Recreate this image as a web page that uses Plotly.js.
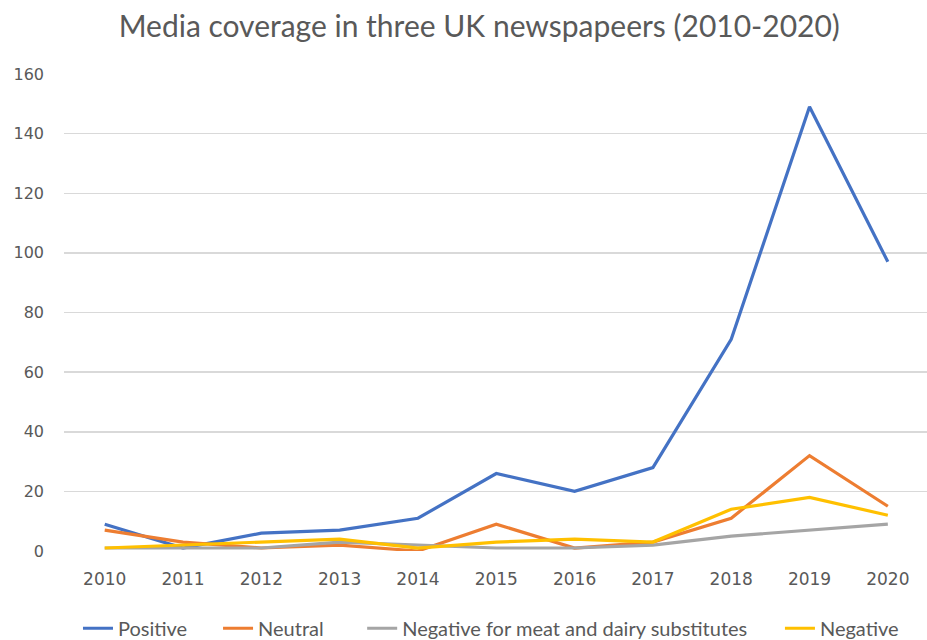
<!DOCTYPE html>
<html>
<head>
<meta charset="utf-8">
<script src="https://cdn.plot.ly/plotly-3.0.1.min.js"></script>
<style>html,body{margin:0;padding:0;background:#fff;}#chart{width:927px;height:640px;}</style>
</head>
<body>
<div id="chart"></div>
<script>
var years = [2010, 2011, 2012, 2013, 2014, 2015, 2016, 2017, 2018, 2019, 2020];
var positive = [9, 1, 6, 7, 11, 26, 20, 28, 71, 149, 97];
var neutral = [7, 3, 1, 2, 0, 9, 1, 3, 11, 32, 15];
var negativeSubstitutes = [1, 1, 1, 3, 2, 1, 1, 2, 5, 7, 9];
var negative = [1, 2, 3, 4, 1, 3, 4, 3, 14, 18, 12];
var seriesNames = ["Positive", "Neutral", "Negative for meat and dairy substitutes", "Negative"];
var seriesColors = ["#4472C4", "#ED7D31", "#A5A5A5", "#FFC000"];
var seriesData = [positive, neutral, negativeSubstitutes, negative];
var legendIds = ["legend", "legend2", "legend3", "legend4"];
var legendX = [0.0162, 0.1785, 0.3455, 0.8296];

var traces = seriesData.map(function (vals, i) {
  return {
    x: years, y: vals, name: seriesNames[i], type: "scatter", mode: "lines",
    line: {color: seriesColors[i], width: 3.2}, legend: legendIds[i]
  };
});

var textFont = "Lato, sans-serif";
var tickFont = "'DejaVu Sans', sans-serif";
var layout = {
  width: 927, height: 640,
  margin: {l: 64, r: 0, t: 74, b: 89, autoexpand: false},
  paper_bgcolor: "#ffffff", plot_bgcolor: "#ffffff",
  title: {text: "Media coverage in three UK newspapeers (2010-2020)", font: {family: textFont, size: 30, color: "#595959"}, x: 0.517, xanchor: "center", y: 0.958, yanchor: "middle"},
  xaxis: {range: [2009.48, 2020.5], tickvals: years, ticktext: years.map(String), showgrid: false, zeroline: false, showline: false, ticks: "", tickfont: {family: tickFont, size: 17, color: "#595959"}, ticklabelstandoff: 16},
  yaxis: {range: [0, 160], dtick: 20, showgrid: true, gridcolor: "#D9D9D9", gridwidth: 1.5, zeroline: false, showline: false, ticks: "", tickfont: {family: tickFont, size: 16, color: "#595959"}, ticklabelstandoff: 19},
  showlegend: true
};
legendIds.forEach(function (id, i) {
  layout[id] = {orientation: "h", x: legendX[i], xanchor: "left", y: -0.162, yanchor: "middle", font: {family: textFont, size: 20, color: "#595959"}, bgcolor: "rgba(0,0,0,0)"};
});
Plotly.newPlot("chart", traces, layout, {displayModeBar: false, staticPlot: true});
</script>
</body>
</html>
